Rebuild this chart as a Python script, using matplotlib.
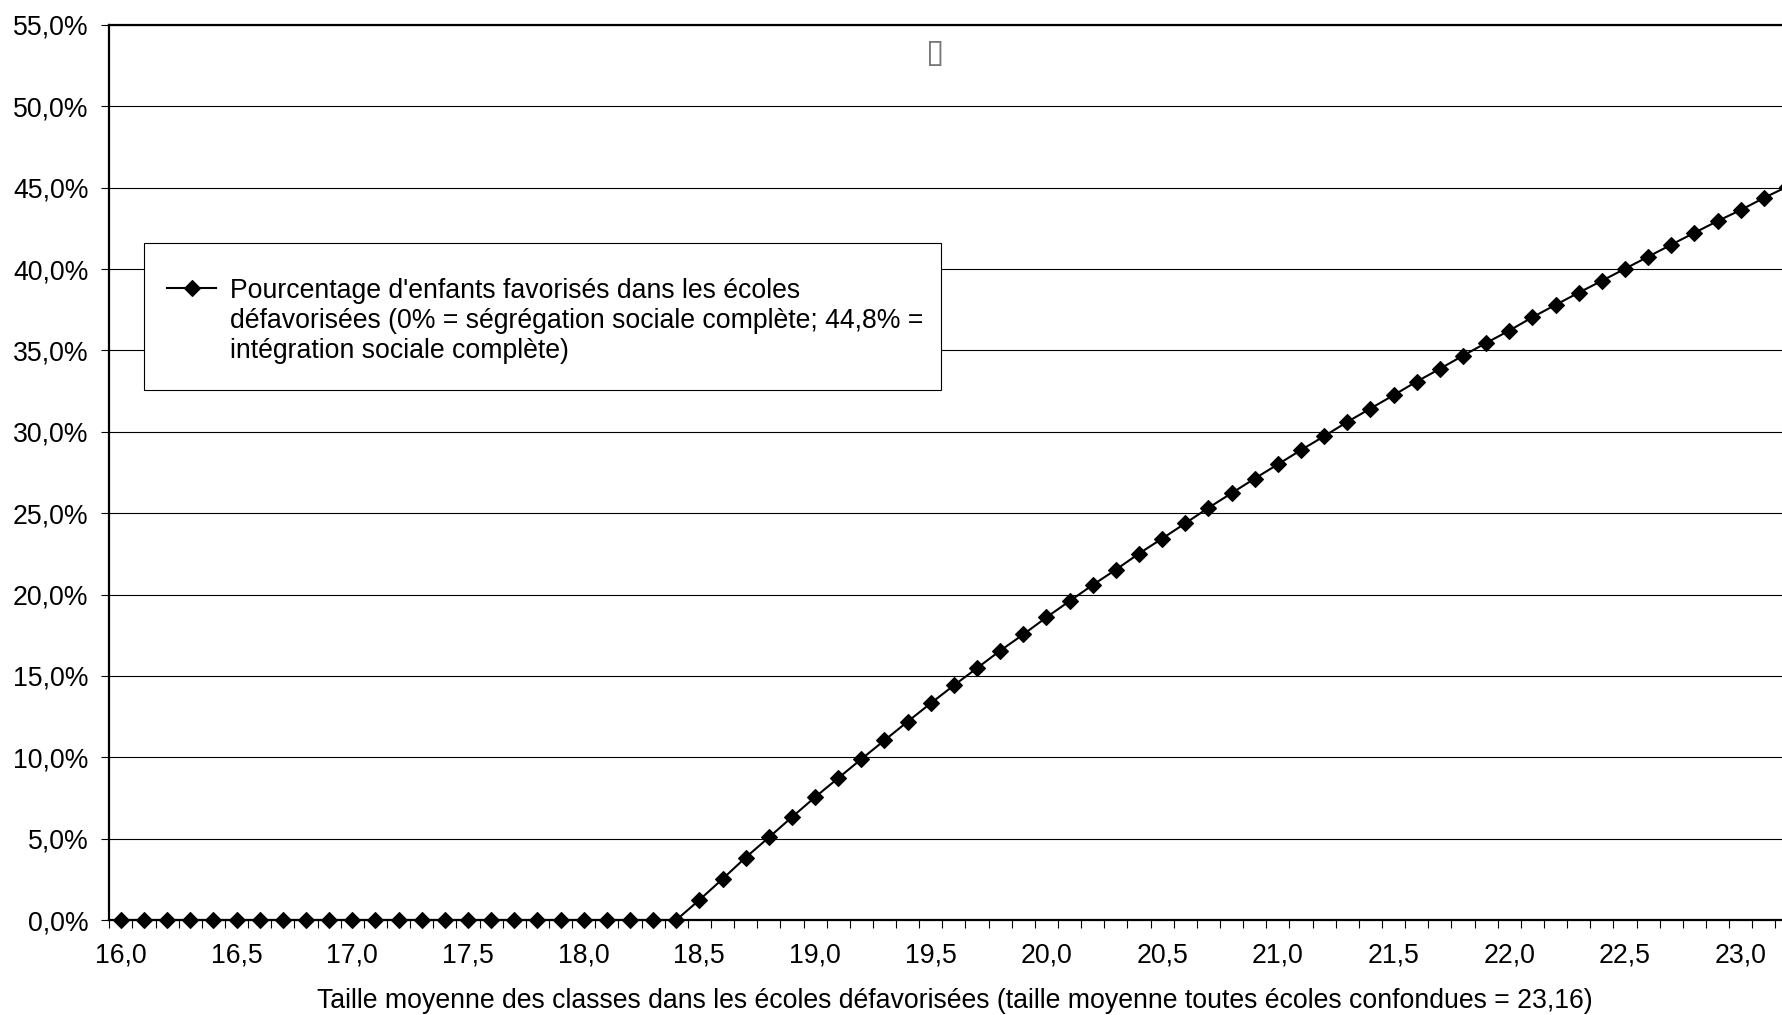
import matplotlib
matplotlib.use("Agg")
import matplotlib.pyplot as plt
from matplotlib.lines import Line2D
from matplotlib.patches import Rectangle
from matplotlib.ticker import FixedLocator, FuncFormatter

plt.rcParams["font.family"] = ["Liberation Sans", "DejaVu Sans"]

# Average class size in disadvantaged schools (category axis)
class_sizes = [
    16.0, 16.1, 16.2, 16.3, 16.4, 16.5, 16.6, 16.7, 16.8, 16.9,
    17.0, 17.1, 17.2, 17.3, 17.4, 17.5, 17.6, 17.7, 17.8, 17.9,
    18.0, 18.1, 18.2, 18.3, 18.4, 18.5, 18.6, 18.7, 18.8, 18.9,
    19.0, 19.1, 19.2, 19.3, 19.4, 19.5, 19.6, 19.7, 19.8, 19.9,
    20.0, 20.1, 20.2, 20.3, 20.4, 20.5, 20.6, 20.7, 20.8, 20.9,
    21.0, 21.1, 21.2, 21.3, 21.4, 21.5, 21.6, 21.7, 21.8, 21.9,
    22.0, 22.1, 22.2, 22.3, 22.4, 22.5, 22.6, 22.7, 22.8, 22.9,
    23.0, 23.1, 23.2,
]

# Share of advantaged pupils in disadvantaged schools (%)
pct_favorises = [
    0.0, 0.0, 0.0, 0.0, 0.0, 0.0, 0.0, 0.0, 0.0, 0.0,
    0.0, 0.0, 0.0, 0.0, 0.0, 0.0, 0.0, 0.0, 0.0, 0.0,
    0.0, 0.0, 0.0, 0.0, 0.0, 1.23, 2.52, 3.84, 5.07, 6.32,
    7.55, 8.72, 9.89, 11.04, 12.19, 13.32, 14.42, 15.48, 16.55, 17.55,
    18.60, 19.60, 20.59, 21.53, 22.52, 23.44, 24.38, 25.33, 26.23, 27.13,
    28.00, 28.88, 29.73, 30.61, 31.43, 32.25, 33.09, 33.87, 34.68, 35.46,
    36.22, 37.04, 37.80, 38.55, 39.28, 40.02, 40.76, 41.50, 42.23, 42.95,
    43.63, 44.37, 45.06,
]

y_ticks = [0, 5, 10, 15, 20, 25, 30, 35, 40, 45, 50, 55]
label_every = 5

legend_lines = [
    "Pourcentage d'enfants favorisés dans les écoles",
    "défavorisées (0% = ségrégation sociale complète; 44,8% =",
    "intégration sociale complète)",
]
x_title = ("Taille moyenne des classes dans les écoles défavorisées "
           "(taille moyenne toutes écoles confondues = 23,16)")

FS = 19.2
W, H = 1783, 1015
fig = plt.figure(figsize=(W / 100, H / 100), dpi=100)
ax = fig.add_axes([109.3 / W, 95 / H, 1 - 109.3 / W, (920 - 25) / H])

idx = list(range(len(class_sizes)))
line, = ax.plot(idx, pct_favorises, color="black", lw=1.5,
                marker="D", ms=8.0, mfc="black", mec="black", mew=0.8,
                clip_on=False, zorder=5)

ax.set_xlim(-0.5, -0.5 + (W - 109.3) / 23.14)
ax.set_ylim(0, 55)

# Category axis: labels every 0.5, tick marks between categories
ax.xaxis.set_major_locator(FixedLocator(idx[::label_every]))
ax.xaxis.set_major_formatter(FuncFormatter(
    lambda v, p: f"{class_sizes[int(round(v))]:.1f}".replace(".", ",")))
ax.xaxis.set_minor_locator(FixedLocator([i - 0.5 for i in idx] + [idx[-1] + 0.5]))
ax.tick_params(axis="x", which="major", length=0, pad=16.5, labelsize=FS)
ax.tick_params(axis="x", which="minor", length=6, width=0.8, color="black",
               direction="out")

ax.set_yticks(y_ticks)
ax.yaxis.set_major_formatter(FuncFormatter(
    lambda v, p: f"{v:.1f}%".replace(".", ",")))
ax.tick_params(axis="y", length=6, width=0.8, color="black", pad=9,
               labelsize=FS)

ax.yaxis.grid(True, color="black", lw=0.8)
ax.set_axisbelow(True)

for side in ("left", "bottom", "top"):
    ax.spines[side].set_linewidth(1.6)
    ax.spines[side].set_color("black")
ax.spines["right"].set_visible(False)

# Title glyph at top of the plot
fig.text(935 / W, 1 - 52 / H, "\u25af", ha="center", va="center",
         fontsize=24, color="#777777", family="DejaVu Sans")

# Axis title
fig.text(955 / W, 1 - 1001 / H, x_title, ha="center", va="center",
         fontsize=FS)

# Legend frame
ax.add_patch(Rectangle((144.4 / W, 1 - 390 / H), (941.5 - 144.4) / W,
                       (390 - 243.3) / H, transform=fig.transFigure,
                       facecolor="white", edgecolor="black", lw=0.8,
                       clip_on=False, zorder=4.5))

# Legend entries: first line carries the marker, continuation lines have none
blank = Line2D([], [], linestyle="none", marker=None)
leg = ax.legend([line, blank, blank], legend_lines,
                loc="upper left",
                bbox_to_anchor=(167.2 / W, 1 - 277.5 / H),
                bbox_transform=fig.transFigure,
                frameon=False, fontsize=FS,
                handlelength=1.83, handletextpad=0.51,
                labelspacing=0.16, borderpad=0, borderaxespad=0)
leg.set_zorder(6)

fig.savefig("out.png", dpi=100)
